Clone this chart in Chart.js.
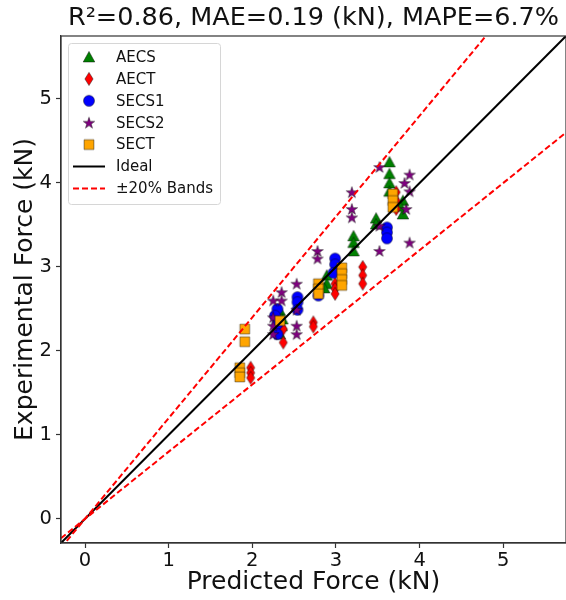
<!DOCTYPE html>
<html>
<head>
<meta charset="utf-8">
<script src="https://cdn.jsdelivr.net/npm/chart.js@4.4.1/dist/chart.umd.min.js"></script>
<style>
  html, body { margin: 0; padding: 0; background: #ffffff; }
  #wrap { width: 566px; height: 600px; }
</style>
</head>
<body>
<div id="wrap"><canvas id="chart" width="566" height="600"></canvas></div>
<script>
// ---- data: predicted vs experimental force (kN) per specimen group ----
const AECS_pred  = [2.33, 2.36, 2.35, 2.33, 2.89, 2.89, 2.86, 3.21, 3.21, 3.21, 3.48, 3.48, 3.64, 3.64, 3.64, 3.64, 3.80, 3.80, 3.77];
const AECS_exp   = [2.48, 2.38, 2.30, 2.20, 2.90, 2.80, 2.75, 3.37, 3.29, 3.19, 3.58, 3.51, 4.25, 4.11, 4.00, 3.90, 3.79, 3.63, 3.72];

const AECT_pred  = [1.98, 1.98, 1.98, 2.37, 2.37, 2.73, 2.73, 2.99, 2.99, 2.99, 3.32, 3.32, 3.32, 3.72, 3.72, 3.72];
const AECT_exp   = [1.80, 1.74, 1.68, 2.26, 2.10, 2.34, 2.29, 2.80, 2.74, 2.68, 3.00, 2.90, 2.80, 3.89, 3.79, 3.69];

const SECS1_pred = [2.30, 2.27, 2.30, 2.30, 2.54, 2.54, 2.54, 2.79, 2.99, 2.99, 2.97, 3.61, 3.61, 3.61];
const SECS1_exp  = [2.50, 2.42, 2.32, 2.20, 2.64, 2.58, 2.49, 2.66, 3.10, 3.03, 2.93, 3.47, 3.41, 3.34];

const SECS2_pred = [2.25, 2.25, 2.25, 2.25, 2.35, 2.35, 2.53, 2.53, 2.53, 2.53, 2.78, 2.78, 3.19, 3.19, 3.19, 3.52, 3.52, 3.52, 3.88, 3.82, 3.88, 3.84, 3.88];
const SECS2_exp  = [2.60, 2.40, 2.30, 2.20, 2.70, 2.60, 2.80, 2.49, 2.30, 2.20, 3.19, 3.10, 3.89, 3.69, 3.59, 4.19, 3.49, 3.19, 4.10, 4.00, 3.90, 3.69, 3.29];

const SECT_pred  = [1.85, 1.85, 1.85, 1.91, 1.91, 2.33, 2.79, 2.79, 2.79, 3.07, 3.07, 3.07, 3.07, 3.68, 3.68, 3.68];
const SECT_exp   = [1.80, 1.74, 1.69, 2.26, 2.11, 2.36, 2.80, 2.74, 2.68, 2.99, 2.92, 2.85, 2.78, 3.87, 3.79, 3.71];

// axis range and ticks (same for both axes)
const AXIS_RANGE = [-0.287, 5.75];
const AXIS_TICKS = [0, 1, 2, 3, 4, 5];

// reference lines: ideal (y = x) and the +/-20 % bands
const IDEAL_FACTOR = 1.0;
const BAND_FACTORS = [1.2, 0.8];

const TITLE_TEXT = 'R\u00B2=0.86, MAE=0.19 (kN), MAPE=6.7%';
const FONT = "'DejaVu Sans', 'Liberation Sans', sans-serif";

// ---- marker glyphs drawn once into small canvases ----
function makeMarker(shape, fill) {
  const c = document.createElement('canvas');
  c.width = 18; c.height = 18;
  const g = c.getContext('2d');
  const cx = 9, cy = 9;
  g.beginPath();
  if (shape === 'triangle') {
    g.moveTo(cx, cy - 5.6);
    g.lineTo(cx + 5.8, cy + 5.0);
    g.lineTo(cx - 5.8, cy + 5.0);
    g.closePath();
  } else if (shape === 'thinDiamond') {
    g.moveTo(cx, cy - 6.6);
    g.lineTo(cx + 4.1, cy);
    g.lineTo(cx, cy + 6.6);
    g.lineTo(cx - 4.1, cy);
    g.closePath();
  } else if (shape === 'circle') {
    g.arc(cx, cy, 5.5, 0, Math.PI * 2);
  } else if (shape === 'star') {
    const R = 6.0, r = R * 0.382;
    for (let i = 0; i < 10; i++) {
      const rad = (i % 2 === 0) ? R : r;
      const a = -Math.PI / 2 + i * Math.PI / 5;
      const px = cx + rad * Math.cos(a), py = cy + 0.5 + rad * Math.sin(a);
      if (i === 0) g.moveTo(px, py); else g.lineTo(px, py);
    }
    g.closePath();
  } else if (shape === 'square') {
    g.rect(cx - 4.9, cy - 4.9, 9.8, 9.8);
  }
  g.fillStyle = fill;
  g.fill();
  g.lineWidth = 0.8;
  g.strokeStyle = 'rgba(0,0,0,0.55)';
  g.stroke();
  return c;
}

function points(xs, ys) {
  return xs.map((x, i) => ({ x: x, y: ys[i] }));
}
function refLine(factor) {
  return AXIS_RANGE.map(x => ({ x: x, y: factor * x }));
}

function scatterSet(label, xs, ys, shape, color, order) {
  return {
    label: label,
    data: points(xs, ys),
    pointStyle: makeMarker(shape, color),
    pointRadius: 5,
    pointHoverRadius: 5,
    showLine: false,
    order: order
  };
}

const datasets = [
  scatterSet('AECS', AECS_pred, AECS_exp, 'triangle', '#008000', 6),
  scatterSet('AECT', AECT_pred, AECT_exp, 'thinDiamond', '#ff0000', 5),
  scatterSet('SECS1', SECS1_pred, SECS1_exp, 'circle', '#0000ff', 4),
  scatterSet('SECS2', SECS2_pred, SECS2_exp, 'star', '#800080', 3),
  scatterSet('SECT', SECT_pred, SECT_exp, 'square', '#ffa500', 2),
  {
    label: 'Ideal',
    data: refLine(IDEAL_FACTOR),
    showLine: true, borderColor: '#000000', borderWidth: 2,
    pointRadius: 0, pointHoverRadius: 0, order: 1
  },
  {
    label: '\u00B120% Bands',
    data: refLine(BAND_FACTORS[0]),
    showLine: true, borderColor: '#ff0000', borderWidth: 2, borderDash: [6, 3],
    pointRadius: 0, pointHoverRadius: 0, order: 0
  },
  {
    label: '\u00B120% Bands (lower)',
    data: refLine(BAND_FACTORS[1]),
    showLine: true, borderColor: '#ff0000', borderWidth: 2, borderDash: [6, 3],
    pointRadius: 0, pointHoverRadius: 0, order: 0, inLegend: false
  }
];

// framed legend in the upper-left corner of the plot area
const cornerLegend = {
  id: 'cornerLegend',
  afterDraw(chart) {
    const ctx = chart.ctx;
    const area = chart.chartArea;
    const bx = area.left + 7, by = area.top + 7, bw = 152, bh = 161;
    ctx.save();
    ctx.beginPath();
    if (ctx.roundRect) ctx.roundRect(bx + 0.5, by + 0.5, bw, bh, 3); else ctx.rect(bx + 0.5, by + 0.5, bw, bh);
    ctx.fillStyle = 'rgba(255,255,255,0.85)';
    ctx.fill();
    ctx.strokeStyle = '#d6d6d6';
    ctx.lineWidth = 1;
    ctx.stroke();

    const items = chart.data.datasets.filter(d => d.inLegend !== false);
    const rowH = 21.9;
    ctx.font = '15px ' + FONT;
    ctx.textBaseline = 'middle';
    ctx.textAlign = 'left';
    items.forEach((d, i) => {
      const cy = by + 14 + i * rowH;
      const mx = bx + 21;
      if (d.showLine) {
        ctx.beginPath();
        ctx.setLineDash(d.borderDash || []);
        ctx.strokeStyle = d.borderColor;
        ctx.lineWidth = d.borderWidth;
        ctx.moveTo(bx + 5, cy);
        ctx.lineTo(bx + 37, cy);
        ctx.stroke();
        ctx.setLineDash([]);
      } else {
        const img = d.pointStyle;
        ctx.drawImage(img, mx - img.width / 2, cy - img.height / 2);
      }
      ctx.fillStyle = '#111111';
      ctx.fillText(d.label, bx + 48, cy + 1);
    });
    ctx.restore();
  }
};

// box spines on all four sides of the plot area
const frame = {
  id: 'frame',
  afterDatasetsDraw(chart) {
    const { left, top, right, bottom } = chart.chartArea;
    const ctx = chart.ctx;
    ctx.save();
    ctx.strokeStyle = '#333333';
    ctx.lineWidth = 1.2;
    ctx.strokeRect(left, top, right - left, bottom - top);
    ctx.restore();
  }
};

function axis(titleText, isX) {
  return {
    type: 'linear',
    min: AXIS_RANGE[0],
    max: AXIS_RANGE[1],
    afterBuildTicks: s => { s.ticks = AXIS_TICKS.map(v => ({ value: v })); },
    afterFit: s => {
      if (isX) s.height = 57; else s.width = 61;
      s.paddingLeft = 0; s.paddingRight = 0; s.paddingTop = 0; s.paddingBottom = 0;
    },
    ticks: {
      color: '#111111',
      font: { family: FONT, size: 19.5 },
      padding: isX ? 1 : 4,
      maxRotation: 0,
      callback: v => String(v)
    },
    grid: { display: true, drawOnChartArea: false, drawTicks: true, tickLength: 5, tickColor: '#333333', tickWidth: 1.2 },
    border: { display: true, color: '#333333', width: 1.2 },
    title: {
      display: true,
      text: titleText,
      color: '#111111',
      font: { family: FONT, size: 25 },
      padding: isX ? { top: 0, bottom: 3 } : { top: 10, bottom: 0 }
    }
  };
}

Chart.defaults.font.family = FONT;

new Chart(document.getElementById('chart'), {
  type: 'scatter',
  data: { datasets: datasets },
  options: {
    responsive: false,
    animation: false,
    devicePixelRatio: 1,
    layout: { padding: 0, autoPadding: false },
    scales: {
      x: axis('Predicted Force (kN)', true),
      y: axis('Experimental Force (kN)', false)
    },
    plugins: {
      legend: { display: false },
      tooltip: { enabled: false },
      title: {
        display: true,
        text: TITLE_TEXT,
        fullSize: false,
        color: '#111111',
        font: { family: FONT, size: 25.5, weight: 'normal' },
        padding: { top: 2.7, bottom: 2.7 }
      }
    }
  },
  plugins: [cornerLegend, frame]
});
</script>
</body>
</html>
